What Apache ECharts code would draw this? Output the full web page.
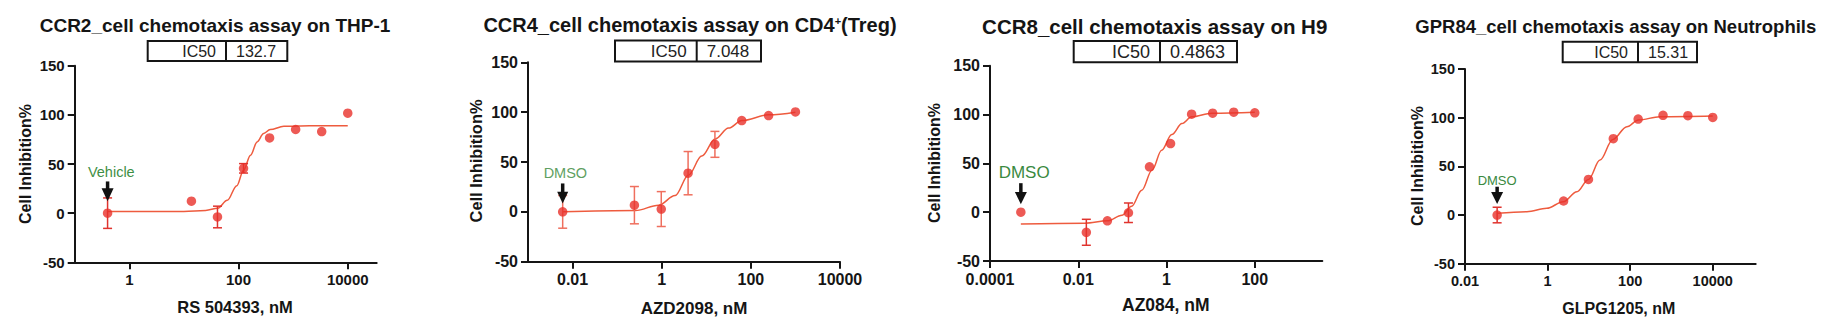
<!DOCTYPE html>
<html><head><meta charset="utf-8">
<script src="https://cdn.jsdelivr.net/npm/echarts@6/dist/echarts.min.js"></script>
<style>html,body{margin:0;padding:0;background:#fff}#c{width:1839px;height:330px}</style>
</head><body><div id="c"></div>
<script>
// ---------------- DATA ----------------
// Panel 1: CCR2 / RS 504393
const p1Conc = [13.72, 41.15, 123.5, 370.4, 1111, 3333, 10000];
const p1Inh  = [12.2, -3.9, 45.6, 76.5, 85.1, 83.0, 101.7];
const p1Err  = [0, 11, 4.8, 0, 0, 0, 0];
const p1Ctrl = [0.4, 0, 15.5];           // plotted position (nM), inhibition, error
const p1CurveConc = [0.4, 10, 25, 41.7, 62, 93, 123, 166, 219, 288, 380, 676, 2000, 10000];
const p1CurveInh  = [1.7, 1.8, 2.8, 5, 13, 28, 43.5, 59, 72.5, 81, 85, 88.4, 89, 89];
const p1XTicks = [1, 100, 10000];

// Panel 2: CCR4 / AZD2098
const p2Conc = [0.244, 0.977, 3.906, 15.625, 62.5, 250, 1000];
const p2Inh  = [6.7, 2.8, 38.8, 67.7, 91.6, 96.6, 100.2];
const p2Err  = [18.7, 17.5, 21.7, 13, 0, 0, 0];
const p2Ctrl = [0.006, 0, 16.4];
const p2CurveConc = [0.006, 0.257, 0.85, 2.0, 4.0, 7.9, 15.8, 31.6, 63, 251, 1000];
const p2CurveInh  = [0, 1.3, 6.7, 16.4, 37, 56, 73, 84, 91.6, 97.3, 100];
const p2XTicks = [0.01, 1, 100, 10000];

// Panel 3: CCR8 / AZ084
const p3Conc = [0.01524, 0.0457, 0.1372, 0.4115, 1.235, 3.704, 11.11, 33.33, 100];
const p3Inh  = [-20.6, -8.9, -0.6, 46.4, 70.2, 100.4, 101.4, 102.4, 101.7];
const p3Err  = [13.3, 0, 10, 0, 0, 0, 0, 0, 0];
const p3Ctrl = [0.0005, 0, 0];
const p3CurveConc = [0.0005, 0.0141, 0.0457, 0.0977, 0.162, 0.275, 0.468, 0.776, 1.318, 2.239, 3.715, 10.7, 100];
const p3CurveInh  = [-12, -11.3, -8.9, -3.1, 6.1, 22.5, 43, 63.5, 79.5, 90.8, 97.6, 101.4, 102.4];
const p3XTicks = [0.0001, 0.01, 1, 100];

// Panel 4: GPR84 / GLPG1205
const p4Conc = [2.441, 9.766, 39.06, 156.25, 625, 2500, 10000];
const p4Inh  = [14.4, 36.6, 78.4, 98.6, 102.4, 102.0, 100.3];
const p4Err  = [0, 0, 0, 0, 0, 0, 0];
const p4Ctrl = [0.06, 0, 8];
const p4CurveConc = [0.0617, 0.316, 0.955, 2.40, 5.13, 9.77, 18.6, 38.0, 83.2, 158.5, 525, 10000];
const p4CurveInh  = [1.7, 3.4, 6.9, 13.7, 24, 36.6, 56.5, 77.7, 90.7, 97.6, 101, 101.7];
const p4XTicks = [0.01, 1, 100, 10000];

const titles = ['CCR2_cell chemotaxis assay on THP-1', 'CCR4_cell chemotaxis assay on CD4', 'CCR8_cell chemotaxis assay on H9', 'GPR84_cell chemotaxis assay on Neutrophils'];
const ic50Values = ['132.7', '7.048', '0.4863', '15.31'];
const xTitles = ['RS 504393, nM', 'AZD2098, nM', 'AZ084, nM', 'GLPG1205, nM'];
const ctrlLabels = ['Vehicle', 'DMSO', 'DMSO', 'DMSO'];
const yTitle = 'Cell Inhibition%';
const yMin = -50, yMax = 150, yStep = 50;

// ---------------- LAYOUT / STYLE ----------------
const FONT = '"Liberation Sans", Arial, Helvetica, sans-serif';
const INK = '#151515';
const panels = [
  { conc:p1Conc, inh:p1Inh, err:p1Err, ctrl:p1Ctrl, cc:p1CurveConc, ci:p1CurveInh, ticks:p1XTicks,
    grid:{left:74.7, top:65.7, width:302, height:196.6}, xr:[-1, 4.53], lab:15, ttl:19, tx:215, ty:25,
    box:{x:147.7, y:41, w:139.6, h:20, d:226, fs:16}, yt:{x:25, y:164, fs:16}, xt:{x:235, y:307, fs:16.5},
    arrow:{tip:12, headH:13, top:31.7, hw:6, sw:3.5, lx:3.7, ly:41, fs:14.5, col:'#3f8f45'}, errCol:'#E0332E' },
  { conc:p2Conc, inh:p2Inh, err:p2Err, ctrl:p2Ctrl, cc:p2CurveConc, ci:p2CurveInh, ticks:p2XTicks,
    grid:{left:528, top:62.3, width:312, height:199.4}, xr:[-3, 4], lab:16, ttl:20, tx:690, ty:25,
    box:{x:615, y:40.5, w:146, h:21, d:696.7, fs:17}, yt:{x:475.5, y:161, fs:16.4}, xt:{x:694, y:308, fs:17},
    arrow:{tip:8.3, headH:11.7, top:28.4, hw:5.5, sw:3.5, lx:2.7, ly:39, fs:14.5, col:'#5f9f62'}, errCol:'#EF6F5E' },
  { conc:p3Conc, inh:p3Inh, err:p3Err, ctrl:p3Ctrl, cc:p3CurveConc, ci:p3CurveInh, ticks:p3XTicks,
    grid:{left:990, top:65.7, width:332.3, height:195.3}, xr:[-4, 3.53], lab:16, ttl:20.5, tx:1154.7, ty:26,
    box:{x:1073.7, y:41, w:163.3, h:21.3, d:1160, fs:18}, yt:{x:934.3, y:163, fs:16}, xt:{x:1165.8, y:305, fs:17.5},
    arrow:{tip:8, headH:12.3, top:29, hw:6, sw:3.5, lx:3.3, ly:39.3, fs:17, col:'#3a8a3f'}, errCol:'#E0332E' },
  { conc:p4Conc, inh:p4Inh, err:p4Err, ctrl:p4Ctrl, cc:p4CurveConc, ci:p4CurveInh, ticks:p4XTicks,
    grid:{left:1465, top:69, width:290.7, height:194.7}, xr:[-2, 5.04], lab:14.5, ttl:18.5, tx:1615.8, ty:26,
    box:{x:1562.7, y:41.7, w:134.3, h:20.6, d:1638, fs:16}, yt:{x:1417.3, y:166, fs:16}, xt:{x:1618.8, y:308, fs:16}, 
    arrow:{tip:11, headH:12, top:28.3, hw:6, sw:3.5, lx:0, ly:34.7, fs:13, col:'#3a8a3f'}, errCol:'#E0332E' }
];

const POINT = '#E8312B';
const CURVE = '#EE5B3E';

function fmtTick(v) {
  const n = Math.pow(10, v);
  const r = Math.round(n * 1e6) / 1e6;
  return String(r);
}

const grids = [], xAxes = [], yAxes = [], series = [], graphics = [];

panels.forEach((p, i) => {
  grids.push(Object.assign({ outerBoundsMode: 'none', containLabel: false }, p.grid));
  const tickLog = p.ticks.map(t => Math.log10(t));
  xAxes.push({
    gridIndex: i, type: 'value', min: p.xr[0], max: p.xr[1],
    axisLine: { show: true, onZero: false, lineStyle: { color: INK, width: 2 } },
    axisTick: { show: true, length: 7, customValues: tickLog, lineStyle: { color: INK, width: 2 } },
    axisLabel: { customValues: tickLog, formatter: fmtTick, fontSize: p.lab, fontWeight: 'bold', fontFamily: FONT, color: INK, margin: 10 },
    splitLine: { show: false }
  });
  yAxes.push({
    gridIndex: i, type: 'value', min: yMin, max: yMax, interval: yStep,
    axisLine: { show: true, onZero: false, lineStyle: { color: INK, width: 2 } },
    axisTick: { show: true, length: 7, lineStyle: { color: INK, width: 2 } },
    axisLabel: { fontSize: p.lab, fontWeight: 'bold', fontFamily: FONT, color: INK, margin: 10 },
    splitLine: { show: false }
  });

  // fitted curve
  series.push({
    type: 'line', xAxisIndex: i, yAxisIndex: i, z: 2, silent: true,
    data: p.cc.map((c, k) => [Math.log10(c), p.ci[k]]),
    showSymbol: false, smooth: 0.35, smoothMonotone: 'x',
    lineStyle: { color: CURVE, width: 1.5 }
  });

  const pts = [[Math.log10(p.ctrl[0]), p.ctrl[1], p.ctrl[2]]]
    .concat(p.conc.map((c, k) => [Math.log10(c), p.inh[k], p.err[k]]));

  // error bars
  series.push({
    type: 'custom', xAxisIndex: i, yAxisIndex: i, z: 3, silent: true,
    data: pts,
    renderItem: (params, api) => {
      const x = api.value(0), y = api.value(1), e = api.value(2);
      if (!e) return null;
      const t = api.coord([x, y + e]), b = api.coord([x, y - e]);
      const st = { stroke: p.errCol, lineWidth: 1.5 };
      return { type: 'group', children: [
        { type: 'line', shape: { x1: t[0], y1: t[1], x2: b[0], y2: b[1] }, style: st },
        { type: 'line', shape: { x1: t[0] - 4.5, y1: t[1], x2: t[0] + 4.5, y2: t[1] }, style: st },
        { type: 'line', shape: { x1: b[0] - 4.5, y1: b[1], x2: b[0] + 4.5, y2: b[1] }, style: st }
      ]};
    }
  });

  // points
  series.push({
    type: 'scatter', xAxisIndex: i, yAxisIndex: i, z: 4, silent: true,
    data: pts.map(d => [d[0], d[1]]),
    symbolSize: 9.5, itemStyle: { color: POINT }
  });

  // control arrow + label
  const a = p.arrow;
  series.push({
    type: 'custom', xAxisIndex: i, yAxisIndex: i, z: 5, silent: true,
    data: [[Math.log10(p.ctrl[0]), p.ctrl[1]]],
    renderItem: (params, api) => {
      const c = api.coord([api.value(0), api.value(1)]);
      const cx = c[0], cy = c[1];
      const hb = a.tip + a.headH;
      return { type: 'group', children: [
        { type: 'rect', shape: { x: cx - a.sw / 2, y: cy - a.top, width: a.sw, height: a.top - hb + 1 }, style: { fill: '#111' } },
        { type: 'polygon', shape: { points: [[cx - a.hw, cy - hb], [cx + a.hw, cy - hb], [cx, cy - a.tip]] }, style: { fill: '#111' } },
        { type: 'text', x: cx + a.lx, y: cy - a.ly, style: { text: ctrlLabels[i], fill: a.col, fontSize: a.fs, fontFamily: FONT, align: 'center', verticalAlign: 'middle' } }
      ]};
    }
  });

  // title
  if (i === 1) {
    graphics.push({ type: 'text', x: p.tx, y: p.ty, style: {
      text: '{t|' + titles[i] + '}{s|+}{t|(Treg)}', align: 'center', verticalAlign: 'middle',
      rich: { t: { fontSize: p.ttl, fontWeight: 'bold', fontFamily: FONT, fill: INK },
              s: { fontSize: 11, fontWeight: 'bold', fontFamily: FONT, fill: INK, verticalAlign: 'top', padding: [0, 0, 9, 0] } } } });
  } else {
    graphics.push({ type: 'text', x: p.tx, y: p.ty, style: { text: titles[i], fontSize: p.ttl, fontWeight: 'bold', fontFamily: FONT, fill: INK, align: 'center', verticalAlign: 'middle' } });
  }
  // IC50 box
  const bx = p.box;
  graphics.push({ type: 'rect', shape: { x: bx.x, y: bx.y, width: bx.w, height: bx.h }, style: { fill: '#fff', stroke: INK, lineWidth: 2 } });
  graphics.push({ type: 'line', shape: { x1: bx.d, y1: bx.y, x2: bx.d, y2: bx.y + bx.h }, style: { stroke: INK, lineWidth: 2 } });
  graphics.push({ type: 'text', x: bx.d - 10, y: bx.y + bx.h / 2 + 0.5, style: { text: 'IC50', fontSize: bx.fs, fontFamily: FONT, fill: '#222', align: 'right', verticalAlign: 'middle' } });
  graphics.push({ type: 'text', x: bx.d + 10, y: bx.y + bx.h / 2 + 0.5, style: { text: ic50Values[i], fontSize: bx.fs, fontFamily: FONT, fill: '#222', align: 'left', verticalAlign: 'middle' } });
  // axis titles
  graphics.push({ type: 'text', x: p.yt.x, y: p.yt.y, rotation: Math.PI / 2, style: { text: yTitle, fontSize: p.yt.fs, fontWeight: 'bold', fontFamily: FONT, fill: INK, align: 'center', verticalAlign: 'middle' } });
  graphics.push({ type: 'text', x: p.xt.x, y: p.xt.y, style: { text: xTitles[i], fontSize: p.xt.fs, fontWeight: 'bold', fontFamily: FONT, fill: INK, align: 'center', verticalAlign: 'middle' } });
});

const chart = echarts.init(document.getElementById('c'), null, { renderer: 'svg' });
chart.setOption({
  animation: false,
  backgroundColor: '#fff',
  grid: grids, xAxis: xAxes, yAxis: yAxes, series: series,
  graphic: { elements: graphics }
});
</script></body></html>
